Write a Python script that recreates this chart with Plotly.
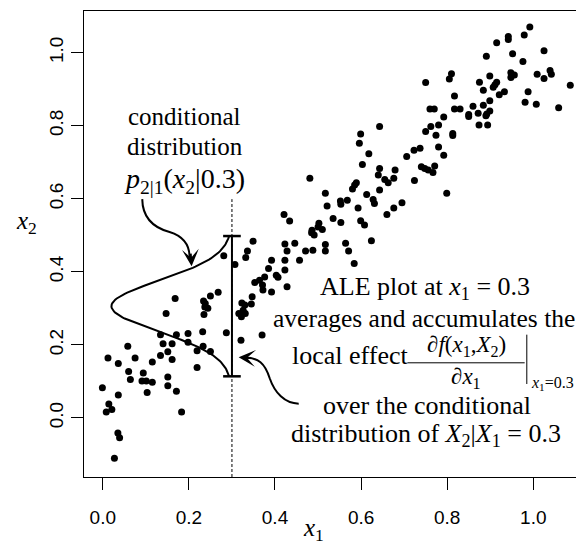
import numpy as np
import plotly.graph_objects as go

# ---- data ----
x1 = [0.750, 0.810, 0.805, 0.817, 0.760, 0.770, 0.817, 0.830, 0.850, 0.792,
      0.643, 0.762, 0.780, 0.750, 0.774, 0.813, 0.813, 0.599, 0.596, 0.780,
      0.737, 0.723, 0.618, 0.792, 0.706, 0.603, 0.740, 0.748, 0.756, 0.767,
      0.771, 0.643, 0.679, 0.640, 0.655, 0.676, 0.724, 0.481, 0.992, 0.979,
      0.942, 0.942, 0.915, 1.025, 0.952, 0.891, 0.976, 0.948, 0.956, 0.948,
      1.009, 1.025, 1.039, 1.042, 0.899, 0.875, 0.915, 0.911, 0.907, 1.086,
      0.884, 0.988, 0.933, 0.921, 0.899, 0.981, 1.007, 0.860, 0.884, 1.059,
      0.850, 0.872, 0.899, 0.892, 0.890, 0.874, 0.894, 0.799, 0.695, 0.589,
      0.585, 0.580, 0.663, 0.643, 0.517, 0.613, 0.628, 0.631, 0.568, 0.552,
      0.553, 0.521, 0.676, 0.593, 0.660, 0.421, 0.434, 0.535, 0.553, 0.599,
      0.608, 0.502, 0.500, 0.510, 0.486, 0.485, 0.491, 0.624, 0.423, 0.446,
      0.517, 0.517, 0.564, 0.428, 0.471, 0.488, 0.571, 0.423, 0.457, 0.584,
      0.423, 0.403, 0.407, 0.428, 0.392, 0.349, 0.336, 0.332, 0.281, 0.307,
      0.392, 0.385, 0.353, 0.364, 0.376, 0.371, 0.372, 0.347, 0.323, 0.330,
      0.326, 0.331, 0.316, 0.322, 0.345, 0.268, 0.250, 0.234, 0.238, 0.237,
      0.244, 0.235, 0.168, 0.147, 0.287, 0.321, 0.370, 0.232, 0.198, 0.171,
      0.134, 0.140, 0.161, 0.198, 0.233, 0.058, 0.012, 0.036, 0.075, 0.134,
      0.151, 0.161, 0.115, 0.219, 0.250, 0.219, 0.060, 0.064, 0.094, 0.091,
      0.101, 0.115, 0.151, 0.151, 0.171, 0.103, -0.001, 0.036, 0.014, 0.008,
      0.021, 0.183, 0.035, 0.039, 0.027]
x2 = [0.918, 0.942, 0.928, 0.881, 0.846, 0.846, 0.846, 0.846, 0.831, 0.824,
      0.798, 0.798, 0.802, 0.784, 0.774, 0.779, 0.773, 0.777, 0.752, 0.742,
      0.738, 0.733, 0.723, 0.719, 0.716, 0.694, 0.688, 0.683, 0.679, 0.672,
      0.690, 0.683, 0.679, 0.665, 0.653, 0.656, 0.650, 0.656, 1.070, 1.048,
      1.044, 1.036, 1.027, 1.005, 0.997, 0.990, 0.976, 0.945, 0.939, 0.932,
      0.941, 0.929, 0.951, 0.941, 0.936, 0.919, 0.919, 0.912, 0.905, 0.911,
      0.897, 0.893, 0.893, 0.885, 0.868, 0.864, 0.859, 0.853, 0.856, 0.849,
      0.825, 0.834, 0.840, 0.832, 0.827, 0.802, 0.802, 0.615, 0.589, 0.644,
      0.638, 0.627, 0.644, 0.624, 0.615, 0.612, 0.598, 0.587, 0.596, 0.594,
      0.585, 0.580, 0.575, 0.575, 0.557, 0.557, 0.539, 0.546, 0.535, 0.540,
      0.528, 0.533, 0.523, 0.516, 0.514, 0.507, 0.501, 0.485, 0.476, 0.478,
      0.475, 0.457, 0.478, 0.457, 0.457, 0.459, 0.457, 0.432, 0.432, 0.423,
      0.405, 0.391, 0.385, 0.359, 0.345, 0.484, 0.457, 0.439, 0.444, 0.420,
      0.432, 0.409, 0.371, 0.377, 0.386, 0.364, 0.350, 0.332, 0.315, 0.309,
      0.295, 0.286, 0.286, 0.277, 0.312, 0.344, 0.334, 0.320, 0.313, 0.304,
      0.300, 0.283, 0.327, 0.286, 0.233, 0.213, 0.227, 0.236, 0.231, 0.228,
      0.228, 0.203, 0.203, 0.207, 0.196, 0.196, 0.164, 0.149, 0.164, 0.171,
      0.181, 0.160, 0.153, 0.184, 0.182, 0.138, 0.127, 0.105, 0.123, 0.101,
      0.101, 0.098, 0.112, 0.088, 0.073, 0.070, 0.083, 0.063, 0.038, 0.016,
      0.023, 0.016, -0.041, -0.054, -0.110]

tick_vals = [0.0, 0.2, 0.4, 0.6, 0.8, 1.0]
tick_text = ["0.0", "0.2", "0.4", "0.6", "0.8", "1.0"]

# conditional distribution illustration at x1 = 0.3
x_cond = 0.3
cond_mean = 0.306
cond_sd = 0.07
cond_lo, cond_hi = 0.114, 0.498
dens_scale = 0.28

SERIF = "Liberation Serif"
SANS = "Liberation Sans"
X_RANGE = [-0.0437, 1.1016]
Y_RANGE = [-0.1616, 1.114]

fig = go.Figure()

fig.add_trace(go.Scatter(x=x1, y=x2, mode="markers",
                         marker=dict(size=7, color="black"),
                         hoverinfo="skip", showlegend=False))

ys = np.linspace(cond_lo, cond_hi, 120)
xs = x_cond - dens_scale * np.exp(-(ys - cond_mean) ** 2 / (2 * cond_sd ** 2))
fig.add_trace(go.Scatter(x=xs, y=ys, mode="lines",
                         line=dict(color="black", width=2),
                         hoverinfo="skip", showlegend=False))

shapes = []
# dashed vertical line at x1 = 0.3
shapes.append(dict(type="line", xref="x", yref="y", x0=x_cond, x1=x_cond,
                   y0=Y_RANGE[0], y1=0.599,
                   line=dict(color="black", width=1, dash="3px,2px")))
# range segment with caps
shapes.append(dict(type="line", xref="x", yref="y", x0=x_cond, x1=x_cond,
                   y0=cond_lo, y1=cond_hi, line=dict(color="black", width=2)))
for yy in (cond_lo, cond_hi):
    shapes.append(dict(type="line", xref="x", yref="y", x0=x_cond - 0.0205,
                       x1=x_cond + 0.0205, y0=yy, y1=yy,
                       line=dict(color="black", width=2.5)))
# curved arrow 1
shapes.append(dict(type="path", xref="x", yref="y",
                   path="M 0.0916,0.599 C 0.0923,0.547 0.1202,0.520 0.1551,0.509 "
                        "C 0.1853,0.498 0.2016,0.473 0.2016,0.440",
                   line=dict(color="black", width=2)))
# curved arrow 2
shapes.append(dict(type="path", xref="x", yref="y",
                   path="M 0.4551,0.0392 C 0.4226,0.0392 0.3993,0.0693 0.3877,0.1088 "
                        "C 0.3760,0.1526 0.3598,0.1636 0.3350,0.1645",
                   line=dict(color="black", width=2)))
# fraction bar and evaluation bar
shapes.append(dict(type="line", xref="x", yref="y", x0=0.708, x1=0.980,
                   y0=0.151, y1=0.151, line=dict(color="black", width=1)))
shapes.append(dict(type="line", xref="x", yref="y", x0=0.985, x1=0.985,
                   y0=0.093, y1=0.228, line=dict(color="black", width=1)))

ann = []
def txt(x, y, s, size=26, xanchor="center", font=SERIF):
    ann.append(dict(x=x, y=y, xref="x", yref="y", text=s, showarrow=False,
                    xanchor=xanchor, yanchor="middle",
                    font=dict(family=font, size=size, color="black")))

txt(0.19, 0.825, "conditional", size=25)
txt(0.19, 0.742, "distribution", size=25)
txt(0.19, 0.651, "<i>p</i><sub>2|1</sub>(<i>x</i><sub>2</sub>|0.3)", size=28)

txt(0.748, 0.355, "ALE plot at <i>x</i><sub>1</sub> = 0.3")
txt(0.745, 0.272, "averages and accumulates the", size=25.5)
txt(0.434, 0.171, "local effect", xanchor="left")
txt(0.844, 0.197, "∂<i>f</i>(<i>x</i><sub>1</sub>,<i>X</i><sub>2</sub>)", size=23)
txt(0.844, 0.109, "∂<i>x</i><sub>1</sub>", size=23)
txt(0.989, 0.095, "<i>x</i><sub>1</sub>=0.3", size=16, xanchor="left")
txt(0.753, 0.035, "over the conditional")
txt(0.750, -0.047, "distribution of <i>X</i><sub>2</sub>|<i>X</i><sub>1</sub> = 0.3")

# arrowheads
ann.append(dict(x=0.2063, y=0.4156, xref="x", yref="y", ax=-1, ay=-14,
                axref="pixel", ayref="pixel", text="", showarrow=True,
                arrowhead=3, arrowsize=1.4, arrowwidth=2, arrowcolor="black"))
ann.append(dict(x=0.3156, y=0.1663, xref="x", yref="y", ax=14, ay=1,
                axref="pixel", ayref="pixel", text="", showarrow=True,
                arrowhead=3, arrowsize=1.4, arrowwidth=2, arrowcolor="black"))

# axis titles
ann.append(dict(x=0.4665, y=-0.112, xref="paper", yref="paper",
                text="<i>x</i><sub>1</sub>", showarrow=False,
                xanchor="center", yanchor="middle",
                font=dict(family=SERIF, size=25, color="black")))
ann.append(dict(x=-0.1176, y=0.547, xref="paper", yref="paper",
                text="<i>x</i><sub>2</sub>", showarrow=False,
                xanchor="center", yanchor="middle",
                font=dict(family=SERIF, size=25, color="black")))

axis_common = dict(showgrid=False, zeroline=False, showline=True, mirror=True,
                   linecolor="black", linewidth=1, ticks="outside", ticklen=12,
                   tickwidth=1, tickcolor="black", tickvals=tick_vals,
                   ticktext=tick_text,
                   tickfont=dict(family=SANS, size=19, color="black"))

# the page body adds an 8px offset, so the figure is 8px smaller than the window
fig.update_layout(
    width=576, height=537,
    margin=dict(l=76, r=7, t=3, b=68),
    paper_bgcolor="white", plot_bgcolor="white",
    xaxis=dict(range=X_RANGE, ticklabelstandoff=11, **axis_common),
    yaxis=dict(range=Y_RANGE, tickangle=-90, **axis_common),
    shapes=shapes, annotations=ann, showlegend=False,
)

fig.write_html("out.html")
